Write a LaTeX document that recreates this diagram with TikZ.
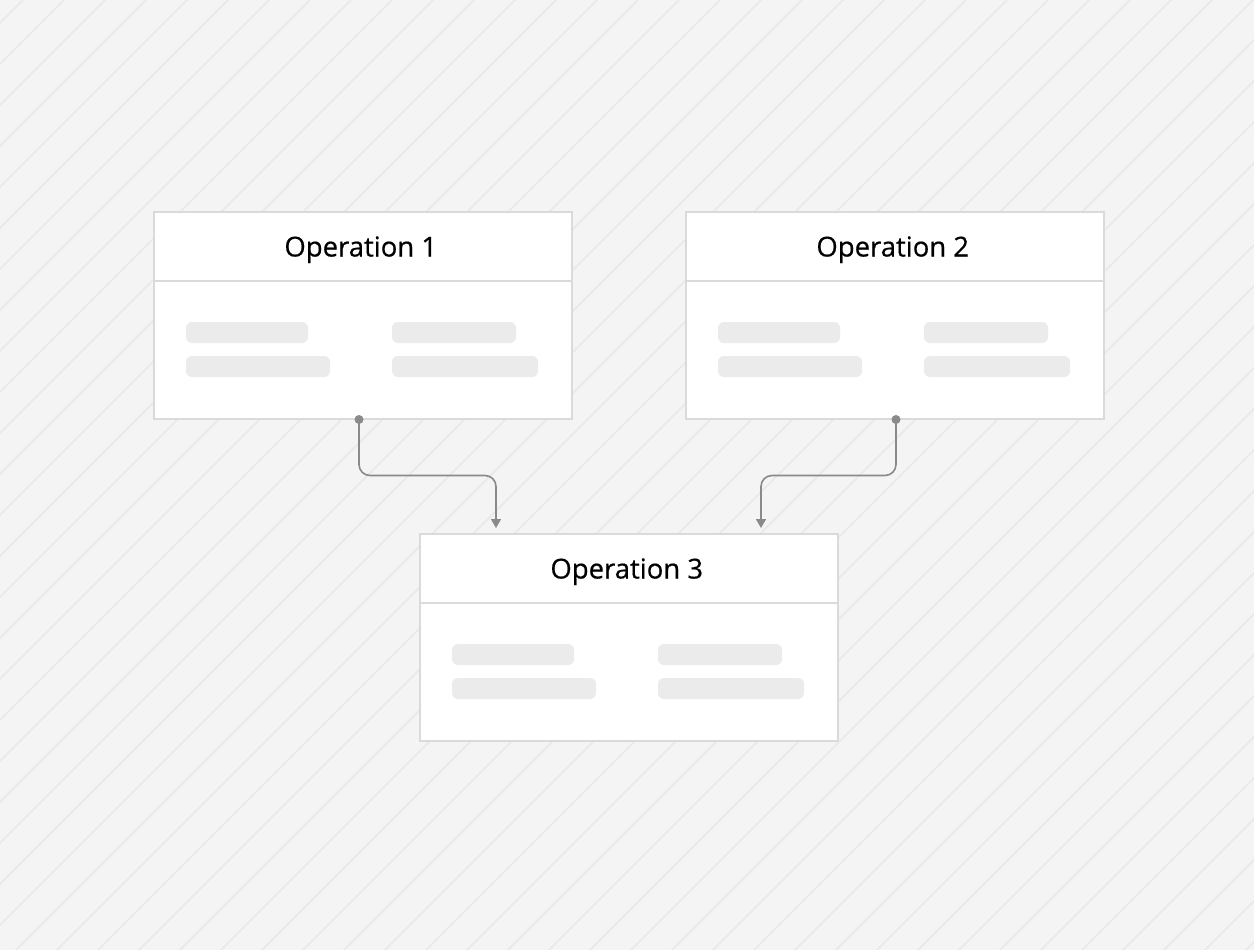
\documentclass[tikz,border=0pt]{standalone}
\usepackage{fontspec}
\setmainfont{Open Sans}
\newfontfamily\titlefont[FakeBold=0.5]{Open Sans}
\usetikzlibrary{arrows.meta,calc}
\definecolor{bg}{HTML}{F4F4F4}
\definecolor{stripe}{HTML}{E9E9E9}
\definecolor{bordc}{HTML}{DADADA}
\definecolor{barc}{HTML}{EBEBEB}
\definecolor{connc}{HTML}{8A8A8A}
\tikzset{
  opbox/.style={draw=bordc, line width=1.5pt, fill=white, minimum width=418pt, minimum height=207pt, inner sep=0pt, anchor=north west},
  optitle/.style={font=\titlefont\fontsize{27.5pt}{32pt}\selectfont, text=black, inner sep=0pt, anchor=base},
  sepline/.style={draw=bordc, line width=1.5pt},
  barbox/.style={fill=barc, rounded corners=6pt},
  conn/.style={draw=connc, line width=1.6pt, rounded corners=11pt, -{Triangle[width=10pt,length=9pt]}},
  dotc/.style={fill=connc}
}
\newcommand{\opbars}[1]{%
  \fill[barbox] ($(#1.north west)+(33,111)$) rectangle ($(#1.north west)+(155,132)$);
  \fill[barbox] ($(#1.north west)+(239,111)$) rectangle ($(#1.north west)+(363,132)$);
  \fill[barbox] ($(#1.north west)+(33,145)$) rectangle ($(#1.north west)+(177,166)$);
  \fill[barbox] ($(#1.north west)+(239,145)$) rectangle ($(#1.north west)+(385,166)$);
}
\begin{document}
\begin{tikzpicture}[x=1pt,y=-1pt]
\useasboundingbox (0,0) rectangle (1254,950);
\fill[bg] (0,0) rectangle (1254,950);
\begin{scope}
\clip (0,0) rectangle (1254,950);
\foreach \k in {0,...,56} {
  \draw[stripe, line width=1.6pt] ({23+41*\k},0) -- ({23+41*\k-1000},1000);
}
\end{scope}
% boxes
\node[opbox] (op1) at (153,211) {};
\node[opbox] (op2) at (685,211) {};
\node[opbox] (op3) at (419,533) {};
\foreach \b/\t in {op1/Operation 1, op2/Operation 2, op3/Operation 3} {
  \node[optitle] (\b title) at ($(\b.north)+(-2,45.5)$) {\t};
  \draw[sepline] ($(\b.north west)+(0,70)$) -- ($(\b.north east)+(0,70)$);
}
\opbars{op1}
\opbars{op2}
\opbars{op3}
% connectors
\coordinate (s1) at ($(op1.south west)+(206,0)$);
\coordinate (s2) at ($(op2.south west)+(211,0)$);
\coordinate (e1) at ($(op3.north west)+(77,-5)$);
\coordinate (e2) at ($(op3.north west)+(342,-5)$);
\coordinate (m1) at ($(s1)+(0,56)$);
\coordinate (m2) at ($(s2)+(0,56)$);
\draw[conn] (s1) -- (m1) -| (e1);
\draw[conn] (s2) -- (m2) -| (e2);
\fill[dotc] (s1) circle (4.5pt);
\fill[dotc] (s2) circle (4.5pt);
\end{tikzpicture}
\end{document}
